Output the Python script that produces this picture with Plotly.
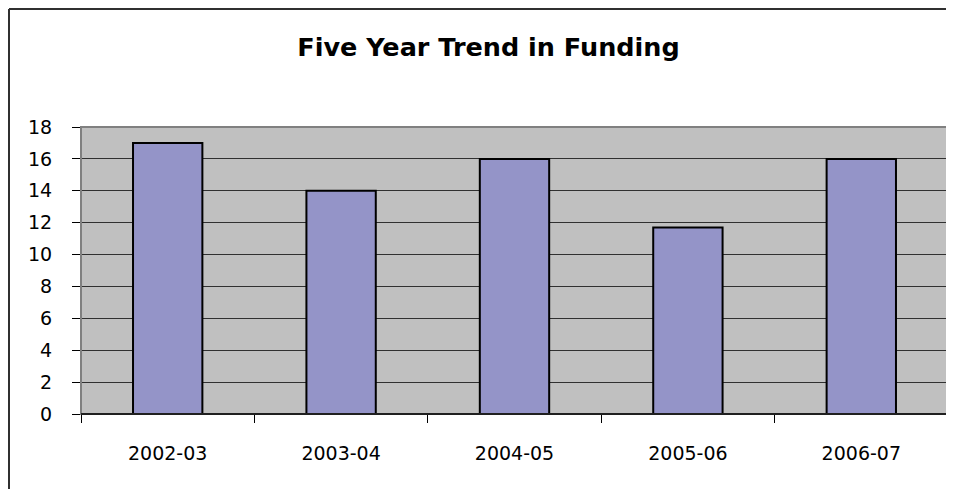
import plotly.graph_objects as go

categories = ["2002-03", "2003-04", "2004-05", "2005-06", "2006-07"]
funding = [17, 14, 16, 11.7, 16]
y_ticks = [0, 2, 4, 6, 8, 10, 12, 14, 16, 18]
title_text = "Five Year Trend in Funding"

# page body has an 8px margin, so the figure is drawn at (8, 8)
W, H = 946, 481
L, R, T, B = 73, 6, 119, 75
pw = W - L - R
ph = H - T - B

fig = go.Figure(go.Bar(
    x=categories, y=funding,
    marker=dict(color="#9494C8", line=dict(color="#000000", width=2)),
    width=0.4,
))

font = "DejaVu Sans, Arial, sans-serif"

fig.update_layout(
    width=W, height=H,
    margin=dict(l=L, r=R, t=T, b=B),
    paper_bgcolor="white",
    plot_bgcolor="#C0C0C0",
    showlegend=False,
    title=dict(text="<b>" + title_text + "</b>", x=(480.5 - L) / pw, xref="paper", xanchor="center",
               y=1 - 39 / H, yanchor="middle",
               font=dict(family=font, size=25.5, color="#000000")),
    bargap=0.6,
)

fig.update_xaxes(
    type="category", tickson="boundaries", ticks="outside", ticklen=8, tickwidth=1, tickcolor="#000000",
    showline=True, linecolor="#000000", linewidth=1, showgrid=False,
    tickfont=dict(family=font, size=19, color="#000000"), ticklabelstandoff=22,
)
fig.update_yaxes(
    range=[0, 18], tickvals=y_ticks, ticks="outside", ticklen=8, tickwidth=1, tickcolor="#000000",
    showline=True, linecolor="#808080", linewidth=1,
    showgrid=True, gridcolor="#303030", gridwidth=1, zeroline=False,
    tickfont=dict(family=font, size=19, color="#000000"), ticklabelstandoff=16,
)

# plot-area frame (gray)
fig.add_shape(type="rect", xref="paper", yref="paper", x0=0, x1=1, y0=0, y1=1,
              line=dict(color="#808080", width=2), fillcolor="rgba(0,0,0,0)", layer="above")
fig.add_shape(type="line", xref="paper", yref="paper", x0=0, x1=1, y0=0, y1=0,
              line=dict(color="#000000", width=1.5), layer="above")
# outer chart border (left and top, at the figure edge)
bx = (1 - L) / pw
by = 1 + (T - 1) / ph
fig.add_shape(type="line", xref="paper", yref="paper", x0=bx, x1=bx, y0=by, y1=-(B + 10) / ph,
              line=dict(color="#303030", width=2))
fig.add_shape(type="line", xref="paper", yref="paper", x0=bx, x1=1 + (R + 10) / pw, y0=by, y1=by,
              line=dict(color="#303030", width=2))

fig.write_html("out.html")
